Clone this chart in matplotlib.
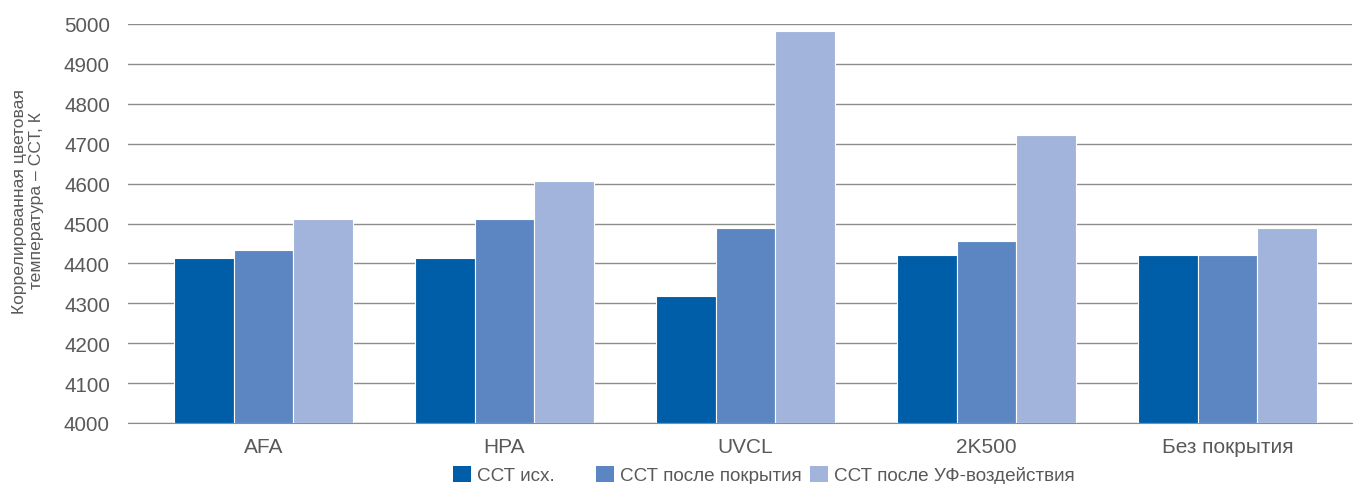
import matplotlib.pyplot as plt
from matplotlib.patches import Patch
import numpy as np

plt.rcParams['font.family'] = ['Liberation Sans', 'DejaVu Sans']

categories = ['AFA', 'HPA', 'UVCL', '2K500', 'Без покрытия']
cct_initial = [4413, 4413, 4318, 4421, 4421]
cct_coated = [4433, 4511, 4488, 4455, 4421]
cct_uv = [4511, 4606, 4983, 4723, 4489]
series_labels = ['ССТ исх.', 'ССТ после покрытия', 'ССТ после УФ-воздействия']
colors = ['#005DA8', '#5B86C2', '#A2B4DC']

text_color = '#595959'
W, H = 1356, 485

fig = plt.figure(figsize=(W / 100, H / 100), dpi=100)
# plot area in pixels: x 128..1352, y 25..424
ax = fig.add_axes([128 / W, 1 - 424 / H, (1352 - 128) / W, (424 - 25) / H])

x = np.arange(len(categories))
width = 0.248
for i, (vals, col) in enumerate(zip([cct_initial, cct_coated, cct_uv], colors)):
    ax.bar(x + (i - 1) * width, np.array(vals) - 4000, width, bottom=4000,
           color=col, edgecolor='white', linewidth=0.8, zorder=3)

ax.set_ylim(4000, 5000)
ax.set_yticks(np.arange(4000, 5001, 100))
ax.set_xlim(-0.562, 4.517)
ax.set_xticks(x)
ax.set_xticklabels(categories)
ax.grid(axis='y', color='#8c8c8c', linewidth=1.0, zorder=0)
for s in ['top', 'right', 'left']:
    ax.spines[s].set_visible(False)
ax.spines['bottom'].set_color('#8c8c8c')
ax.tick_params(axis='y', length=0, labelcolor=text_color, labelsize=14.8, pad=13)
ax.tick_params(axis='x', length=0, labelcolor=text_color, labelsize=15, pad=10)

fig.text(28 / W, 1 - 201 / H, 'Коррелированная цветовая\nтемпература – ССТ, К',
         rotation=90, ha='center', va='center', multialignment='center',
         color=text_color, fontsize=12.6)

# legend entries, each placed at its own left edge
legend_x = [453, 596, 810]
for lab, col, lx in zip(series_labels, colors, legend_x):
    leg = fig.legend(handles=[Patch(facecolor=col, edgecolor='none')], labels=[lab],
                     loc='center left', bbox_to_anchor=(lx / W, 1 - 476 / H),
                     frameon=False, fontsize=13.6, borderpad=0, borderaxespad=0,
                     handlelength=0.95, handleheight=0.95, handletextpad=0.32)
    for t in leg.get_texts():
        t.set_color(text_color)

fig.savefig('out.png', dpi=100)
